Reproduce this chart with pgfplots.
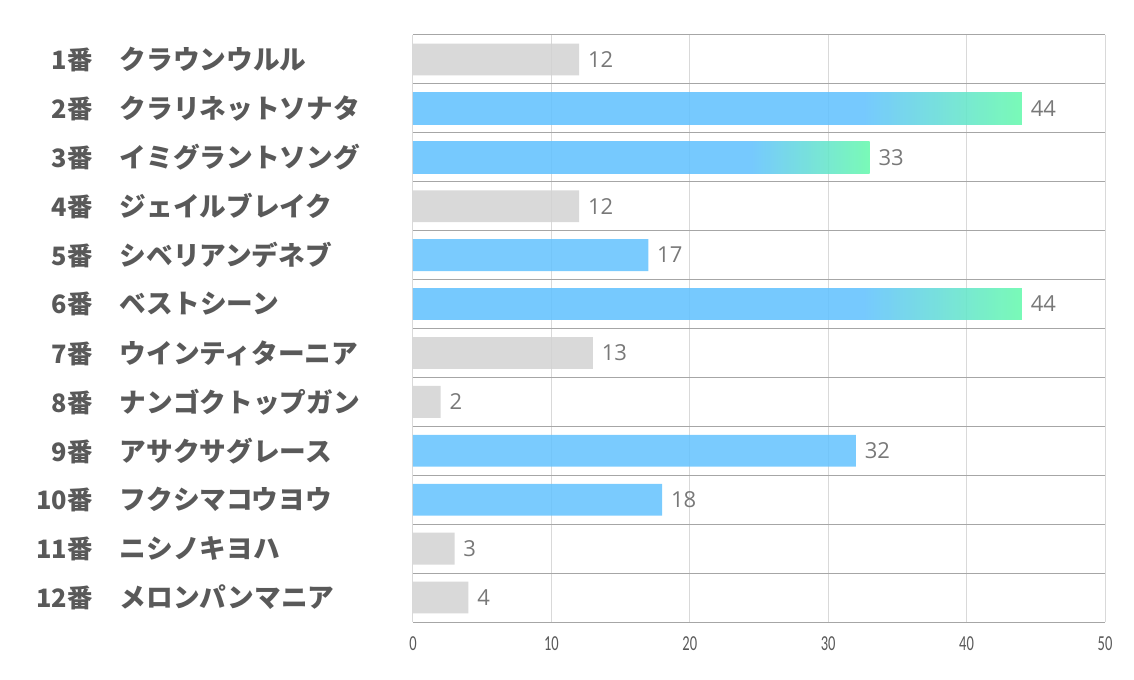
\documentclass[border=0pt]{standalone}
\usepackage{fontspec}
\usepackage{pgfplots}
\pgfplotsset{compat=1.18}
\setmainfont{Open Sans}
\newfontfamily\jp{Noto Sans CJK JP}
\newfontfamily\carlitoN{Carlito}[FakeStretch=0.68]
\definecolor{barblue}{RGB}{99,194,254}
\definecolor{bargreen}{RGB}{102,249,173}
\definecolor{bargray}{RGB}{210,210,210}
\definecolor{labgray}{RGB}{89,89,89}
\definecolor{valgray}{RGB}{120,120,120}
\definecolor{gridlight}{RGB}{217,217,217}
\definecolor{sepgray}{RGB}{166,166,166}
\pgfdeclarehorizontalshading{barshade}{100bp}{color(0bp)=(barblue); color(62bp)=(barblue); color(75bp)=(bargreen); color(100bp)=(bargreen)}
\newcommand{\lab}[2]{\makebox[40pt][r]{\fontsize{19}{19}\selectfont#1}\hspace{20.25pt}\makebox[210pt][l]{#2}}
\begin{document}
\begin{tikzpicture}
\path[use as bounding box] (-309.75pt,-43.5pt) rectangle (540.75pt,466.5pt);
\begin{axis}[
  at={(0,0)}, anchor=south west,
  scale only axis, width=519pt, height=440.25pt,
  xbar, bar width=0.65, bar shift=0pt,
  xmin=0, xmax=50, ymin=0.5, ymax=12.5, y dir=reverse,
  xtick={0,10,20,30,40,50},
  ytick={1,2,3,4,5,6,7,8,9,10,11,12},
  yticklabels={
    {\lab{1番}{クラウンウルル}},
    {\lab{2番}{クラリネットソナタ}},
    {\lab{3番}{イミグラントソング}},
    {\lab{4番}{ジェイルブレイク}},
    {\lab{5番}{シベリアンデネブ}},
    {\lab{6番}{ベストシーン}},
    {\lab{7番}{ウインティターニア}},
    {\lab{8番}{ナンゴクトップガン}},
    {\lab{9番}{アサクサグレース}},
    {\lab{10番}{フクシマコウヨウ}},
    {\lab{11番}{ニシノキヨハ}},
    {\lab{12番}{メロンパンマニア}}},
  minor ytick={0.5,1.5,2.5,3.5,4.5,5.5,6.5,7.5,8.5,9.5,10.5,11.5,12.5},
  xmajorgrids, yminorgrids,
  major grid style={draw=gridlight, line width=0.75pt},
  minor grid style={draw=sepgray, line width=0.75pt},
  axis line style={draw=none},
  major tick length=0pt, minor tick length=0pt,
  /pgf/number format/assume math mode=true,
  yticklabel style={anchor=east, inner sep=0pt, xshift=-9.75pt, font=\jp\bfseries\fontsize{20}{20}\selectfont, text=labgray},
  xticklabel style={inner sep=0pt, yshift=-11pt, font=\carlitoN\fontsize{16}{16}\selectfont, text=labgray},
  point meta=x,
  nodes near coords,
  nodes near coords style={anchor=west, inner sep=0pt, xshift=6.5pt, text opacity=1, fill opacity=1, font=\fontsize{16.5}{16.5}\selectfont, text=valgray},
]
\addplot[xbar, draw=none, fill=bargray, fill opacity=0.85] coordinates {(12,1) (12,4) (13,7) (2,8) (3,11) (4,12)};
\addplot[xbar, draw=none, fill=barblue, fill opacity=0.85] coordinates {(17,5) (32,9) (18,10)};
\addplot[xbar, draw=none, shading=barshade, fill opacity=0.88] coordinates {(44,2)};
\addplot[xbar, draw=none, shading=barshade, fill opacity=0.88] coordinates {(33,3)};
\addplot[xbar, draw=none, shading=barshade, fill opacity=0.88] coordinates {(44,6)};
\end{axis}
\end{tikzpicture}
\end{document}
